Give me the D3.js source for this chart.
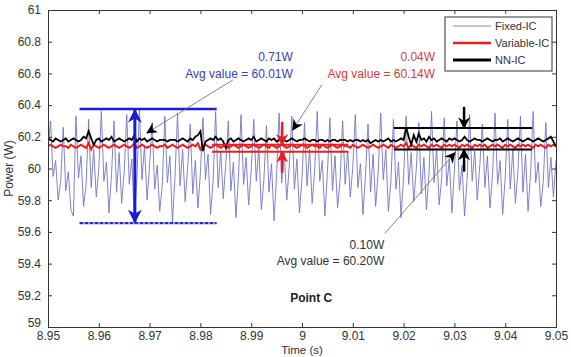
<!DOCTYPE html>
<html>
<head>
<meta charset="utf-8">
<script src="https://cdn.jsdelivr.net/npm/d3@7"></script>
<style>
  body { margin: 0; background: #fff; }
  svg { font-family: "Liberation Sans", Arial, sans-serif; }
</style>
</head>
<body>
<div id="chart"></div>
<script>
// sample times: t = tStart + i * tStep
const tStart = 8.95;
const tStep = 0.0005;

const xTicks = [8.95, 8.96, 8.97, 8.98, 8.99, 9, 9.01, 9.02, 9.03, 9.04, 9.05];
const yTicks = [59, 59.2, 59.4, 59.6, 59.8, 60, 60.2, 60.4, 60.6, 60.8, 61];

const fixedIC = [
  60.12, 60.30, 59.95, 60.05, 59.80, 59.92, 60.26, 59.86, 59.98, 59.74,
  59.70, 60.33, 59.94, 60.08, 59.76, 59.90, 60.31, 59.88, 60.12, 59.82,
  60.00, 60.36, 59.92, 60.04, 59.72, 59.96, 60.30, 59.85, 60.10, 59.78,
  59.98, 60.34, 59.90, 60.06, 59.68, 59.94, 60.37, 59.93, 60.14, 59.80,
  60.02, 60.29, 59.87, 60.02, 59.73, 59.90, 60.33, 59.91, 60.08, 59.66,
  59.95, 60.35, 59.89, 60.12, 59.79, 60.01, 60.28, 59.84, 60.05, 59.75,
  59.97, 60.32, 59.93, 60.09, 59.71, 59.92, 60.36, 59.88, 60.11, 59.81,
  60.03, 60.30, 59.86, 60.04, 59.69, 59.95, 60.34, 59.90, 60.07, 59.77,
  59.99, 60.31, 59.92, 60.13, 59.74, 59.93, 60.27, 59.85, 60.03, 59.67,
  59.96, 60.35, 59.91, 60.10, 59.80, 60.02, 60.33, 59.87, 60.06, 59.72,
  59.94, 60.29, 59.89, 60.12, 59.78, 59.99, 60.36, 59.92, 60.05, 59.70,
  59.97, 60.32, 59.86, 60.08, 59.75, 59.93, 60.30, 59.90, 60.11, 59.82,
  60.01, 60.34, 59.88, 60.03, 59.71, 59.96, 60.28, 59.85, 60.09, 59.76,
  59.98, 60.35, 59.93, 60.12, 59.73, 59.92, 60.31, 59.87, 60.04, 59.69,
  59.95, 60.33, 59.90, 60.10, 59.79, 60.00, 60.29, 59.84, 60.07, 59.74,
  59.97, 60.36, 59.91, 60.13, 59.77, 59.94, 60.32, 59.89, 60.06, 59.72,
  59.99, 60.30, 59.86, 60.02, 59.70, 59.93, 60.34, 59.92, 60.11, 59.80,
  60.02, 60.28, 59.88, 60.08, 59.75, 59.96, 60.35, 59.90, 60.05, 59.71,
  59.94, 60.31, 59.87, 60.12, 59.78, 59.98, 60.33, 59.85, 60.09, 59.73,
  59.97, 60.36, 59.91, 60.04, 59.76, 59.92, 60.29, 59.88, 60.07, 59.82,
  60.05
];

const variableIC = [
  60.14, 60.15, 60.14, 60.13, 60.14, 60.15, 60.14, 60.14, 60.13, 60.15,
  60.14, 60.13, 60.14, 60.15, 60.14, 60.13, 60.16, 60.12, 60.15, 60.14,
  60.13, 60.14, 60.15, 60.14, 60.13, 60.14, 60.15, 60.14, 60.13, 60.14,
  60.15, 60.14, 60.13, 60.14, 60.16, 60.13, 60.14, 60.15, 60.14, 60.13,
  60.14, 60.15, 60.14, 60.13, 60.14, 60.14, 60.15, 60.13, 60.14, 60.15,
  60.14, 60.13, 60.14, 60.15, 60.14, 60.13, 60.14, 60.15, 60.14, 60.16,
  60.12, 60.14, 60.15, 60.14, 60.13, 60.14, 60.15, 60.14, 60.13, 60.14,
  60.15, 60.13, 60.14, 60.15, 60.14, 60.13, 60.14, 60.15, 60.14, 60.13,
  60.14, 60.15, 60.14, 60.13, 60.14, 60.15, 60.14, 60.13, 60.15, 60.14,
  60.13, 60.14, 60.15, 60.14, 60.13, 60.14, 60.15, 60.14, 60.13, 60.14,
  60.15, 60.14, 60.13, 60.14, 60.15, 60.14, 60.14, 60.13, 60.15, 60.14,
  60.13, 60.14, 60.15, 60.14, 60.13, 60.14, 60.15, 60.14, 60.14, 60.13,
  60.15, 60.14, 60.13, 60.14, 60.15, 60.14, 60.13, 60.14, 60.15, 60.14,
  60.13, 60.14, 60.15, 60.14, 60.13, 60.15, 60.14, 60.13, 60.14, 60.15,
  60.14, 60.16, 60.13, 60.15, 60.14, 60.13, 60.15, 60.14, 60.15, 60.14,
  60.13, 60.15, 60.14, 60.15, 60.14, 60.13, 60.15, 60.14, 60.15, 60.14,
  60.15, 60.14, 60.13, 60.15, 60.14, 60.15, 60.14, 60.13, 60.15, 60.14,
  60.15, 60.14, 60.15, 60.13, 60.14, 60.15, 60.14, 60.15, 60.14, 60.13,
  60.15, 60.14, 60.15, 60.14, 60.13, 60.15, 60.14, 60.15, 60.14, 60.15,
  60.14, 60.13, 60.15, 60.14, 60.15, 60.14, 60.13, 60.15, 60.14, 60.15,
  60.14
];

const nnIC = [
  60.19, 60.18, 60.17, 60.19, 60.18, 60.17, 60.18, 60.19, 60.17, 60.18,
  60.19, 60.18, 60.17, 60.18, 60.20, 60.19, 60.235, 60.19, 60.15, 60.18,
  60.19, 60.17, 60.18, 60.19, 60.18, 60.20, 60.17, 60.18, 60.19, 60.18,
  60.17, 60.18, 60.19, 60.18, 60.21, 60.17, 60.19, 60.18, 60.19, 60.17,
  60.18, 60.19, 60.18, 60.17, 60.18, 60.18, 60.18, 60.17, 60.18, 60.18,
  60.18, 60.17, 60.18, 60.19, 60.18, 60.17, 60.19, 60.18, 60.20, 60.21,
  60.235, 60.11, 60.17, 60.18, 60.19, 60.18, 60.20, 60.18, 60.19, 60.17,
  60.13, 60.18, 60.19, 60.17, 60.18, 60.19, 60.18, 60.17, 60.18, 60.19,
  60.18, 60.20, 60.17, 60.18, 60.19, 60.18, 60.17, 60.19, 60.18, 60.19,
  60.17, 60.18, 60.20, 60.18, 60.17, 60.18, 60.19, 60.18, 60.17, 60.18,
  60.18, 60.19, 60.18, 60.17, 60.18, 60.18, 60.17, 60.18, 60.18, 60.17,
  60.18, 60.17, 60.18, 60.18, 60.17, 60.18, 60.18, 60.18, 60.17, 60.18,
  60.17, 60.18, 60.18, 60.17, 60.18, 60.17, 60.18, 60.16, 60.17, 60.18,
  60.17, 60.18, 60.17, 60.18, 60.19, 60.17, 60.18, 60.17, 60.18, 60.19,
  60.18, 60.26, 60.20, 60.15, 60.21, 60.17, 60.22, 60.18, 60.19, 60.17,
  60.20, 60.18, 60.19, 60.17, 60.18, 60.19, 60.18, 60.17, 60.19, 60.18,
  60.19, 60.18, 60.17, 60.18, 60.20, 60.18, 60.17, 60.18, 60.19, 60.18,
  60.18, 60.17, 60.18, 60.19, 60.18, 60.17, 60.18, 60.18, 60.19, 60.17,
  60.18, 60.19, 60.18, 60.17, 60.18, 60.19, 60.18, 60.17, 60.18, 60.19,
  60.18, 60.17, 60.18, 60.19, 60.18, 60.17, 60.18, 60.19, 60.20, 60.17,
  60.14
];

// annotation brackets, in data units
const blueBand = { t0: 8.9562, t1: 8.9832, top: 60.375, bottom: 59.655, tArrow: 8.9671 };
const redBand = { t0: 8.9823, t1: 9.0091, top: 60.150, bottom: 60.106, tArrow: 8.9961, from: [60.294, 59.973] };
const blackBand = { t0: 9.0181, t1: 9.0453, top: 60.255, bottom: 60.120, tArrow: 9.0319, from: [60.389, 59.980] };

// pointer lines [t0, p0, t1, p1]
const pointers = [
  [8.9864, 60.559, 8.9695, 60.225],
  [9.0039, 60.528, 8.9982, 60.244],
  [9.0163, 59.589, 9.0301, 60.099]
];

// labels [text, t, p, colour]
const labels = [
  ['0.71W', 8.9982, 60.679, '#3a3ab8'],
  ['Avg value = 60.01W', 8.9982, 60.572, '#3a3ab8'],
  ['0.04W', 9.0262, 60.679, '#d23c3c'],
  ['Avg value = 60.14W', 9.0262, 60.572, '#d23c3c'],
  ['0.10W', 9.0162, 59.494, '#333'],
  ['Avg value = 60.20W', 9.0162, 59.394, '#333']
];

const legendNames = ['Fixed-IC', 'Variable-IC', 'NN-IC'];

const W = 571, H = 357;
const margin = { top: 10, right: 15, bottom: 30, left: 48 };

const svg = d3.select('#chart').append('svg')
  .attr('width', W).attr('height', H);

const x = d3.scaleLinear().domain([8.95, 9.05]).range([margin.left, W - margin.right]);
const y = d3.scaleLinear().domain([59, 61]).range([H - margin.bottom, margin.top]);

const tOf = i => tStart + i * tStep;

// clip to plot area
svg.append('clipPath').attr('id', 'clip')
  .append('rect')
  .attr('x', x(8.95)).attr('y', y(61))
  .attr('width', x(9.05) - x(8.95)).attr('height', y(59) - y(61));

const plot = svg.append('g').attr('clip-path', 'url(#clip)');

const line = d3.line().x((d, i) => x(tOf(i))).y(d => y(d));

plot.append('path').datum(fixedIC)
  .attr('d', line).attr('fill', 'none')
  .attr('stroke', '#7474c8').attr('stroke-width', 0.9);

plot.append('path').datum(variableIC)
  .attr('d', line).attr('fill', 'none')
  .attr('stroke', '#ee1c1c').attr('stroke-width', 2);

plot.append('path').datum(nnIC)
  .attr('d', line).attr('fill', 'none')
  .attr('stroke', '#000').attr('stroke-width', 1.8);

// arrowheads
const defs = svg.append('defs');
function marker(id, color, size) {
  defs.append('marker').attr('id', id)
    .attr('viewBox', '0 0 10 10').attr('refX', 9).attr('refY', 5)
    .attr('markerUnits', 'userSpaceOnUse')
    .attr('markerWidth', size).attr('markerHeight', size)
    .attr('orient', 'auto')
    .append('path').attr('d', 'M0,0 L10,5 L0,10 L3,5 Z').attr('fill', color);
}
marker('hBlue', '#1a1ad8', 14);
marker('hRed', '#ee1c1c', 12);
marker('hBlack', '#000', 12);
marker('hPtr', '#000', 11);

const ann = svg.append('g');

// blue band
ann.append('line')
  .attr('x1', x(blueBand.t0)).attr('x2', x(blueBand.t1))
  .attr('y1', y(blueBand.top)).attr('y2', y(blueBand.top))
  .attr('stroke', '#1a1ad8').attr('stroke-width', 2.5);
ann.append('line')
  .attr('x1', x(blueBand.t0)).attr('x2', x(blueBand.t1))
  .attr('y1', y(blueBand.bottom)).attr('y2', y(blueBand.bottom))
  .attr('stroke', '#2a2ad0').attr('stroke-width', 2.2).attr('stroke-dasharray', '4,1');
const mid = (blueBand.top + blueBand.bottom) / 2;
[blueBand.top, blueBand.bottom].forEach(p => {
  ann.append('line')
    .attr('x1', x(blueBand.tArrow)).attr('x2', x(blueBand.tArrow))
    .attr('y1', y(mid)).attr('y2', y(p) + (p > mid ? 1 : -1))
    .attr('stroke', '#1a1ad8').attr('stroke-width', 3)
    .attr('marker-end', 'url(#hBlue)');
});

// red and black bands
function band(b, color, head, w) {
  [b.top, b.bottom].forEach(p => {
    ann.append('line')
      .attr('x1', x(b.t0)).attr('x2', x(b.t1))
      .attr('y1', y(p)).attr('y2', y(p))
      .attr('stroke', color).attr('stroke-width', w);
  });
  ann.append('line')
    .attr('x1', x(b.tArrow)).attr('x2', x(b.tArrow))
    .attr('y1', y(b.from[0])).attr('y2', y(b.top))
    .attr('stroke', color).attr('stroke-width', 2.5)
    .attr('marker-end', 'url(#' + head + ')');
  ann.append('line')
    .attr('x1', x(b.tArrow)).attr('x2', x(b.tArrow))
    .attr('y1', y(b.from[1])).attr('y2', y(b.bottom))
    .attr('stroke', color).attr('stroke-width', 2.5)
    .attr('marker-end', 'url(#' + head + ')');
}
band(redBand, '#ee1c1c', 'hRed', 2);
band(blackBand, '#000', 'hBlack', 2);

// pointers
pointers.forEach(p => {
  ann.append('line')
    .attr('x1', x(p[0])).attr('y1', y(p[1]))
    .attr('x2', x(p[2])).attr('y2', y(p[3]))
    .attr('stroke', '#666').attr('stroke-width', 0.8)
    .attr('marker-end', 'url(#hPtr)');
});

// labels
labels.forEach(l => {
  ann.append('text')
    .attr('x', x(l[1])).attr('y', y(l[2]))
    .attr('text-anchor', 'end')
    .attr('font-size', 12).attr('fill', l[3])
    .text(l[0]);
});

svg.append('text')
  .attr('x', x(9.0018)).attr('y', y(59.16))
  .attr('text-anchor', 'middle')
  .attr('font-size', 12).attr('font-weight', 'bold').attr('fill', '#222')
  .text('Point C');

// axes, ticks pointing inward on all four sides
const axisColor = '#333';
svg.append('g')
  .attr('transform', 'translate(0,' + y(59) + ')')
  .call(d3.axisBottom(x).tickValues(xTicks).tickSize(-4).tickPadding(4).tickFormat(d3.format('')));
const leftAxis = svg.append('g')
  .attr('transform', 'translate(' + x(8.95) + ',0)')
  .call(d3.axisLeft(y).tickValues(yTicks).tickSize(-4).tickPadding(7).tickFormat(d3.format('')));
// lift the bottom "59" a little so it clears "8.95"
leftAxis.selectAll('.tick text').filter(d => d === 59).attr('dy', '-0.05em');
svg.append('g')
  .attr('transform', 'translate(0,' + y(61) + ')')
  .call(d3.axisTop(x).tickValues(xTicks).tickSize(-4).tickFormat(''));
svg.append('g')
  .attr('transform', 'translate(' + x(9.05) + ',0)')
  .call(d3.axisRight(y).tickValues(yTicks).tickSize(-4).tickFormat(''));

svg.selectAll('.domain').attr('stroke', axisColor);
svg.selectAll('.tick line').attr('stroke', axisColor);
svg.selectAll('.tick text').attr('fill', '#333').attr('font-size', 12)
  .attr('font-family', '"Liberation Sans", Arial, sans-serif');

svg.append('text')
  .attr('x', (x(8.95) + x(9.05)) / 2).attr('y', H - 3.5)
  .attr('text-anchor', 'middle').attr('font-size', 11.5).attr('fill', '#333')
  .text('Time (s)');

svg.append('text')
  .attr('transform', 'translate(13,' + (y(60)) + ')rotate(-90)')
  .attr('text-anchor', 'middle').attr('font-size', 12).attr('fill', '#333')
  .text('Power (W)');

// legend
const lg = svg.append('g').attr('transform', 'translate(445,17)');
lg.append('rect').attr('width', 107).attr('height', 54)
  .attr('fill', '#fff').attr('stroke', axisColor);
const lgStyles = [['#7474c8', 0.9], ['#ee1c1c', 2.5], ['#000', 3]];
legendNames.forEach((n, i) => {
  lg.append('line')
    .attr('x1', 8).attr('x2', 46)
    .attr('y1', 9 + i * 17).attr('y2', 9 + i * 17)
    .attr('stroke', lgStyles[i][0]).attr('stroke-width', lgStyles[i][1]);
  lg.append('text')
    .attr('x', 50).attr('y', 13 + i * 17)
    .attr('font-size', 11).attr('fill', '#333')
    .text(n);
});
</script>
</body>
</html>
